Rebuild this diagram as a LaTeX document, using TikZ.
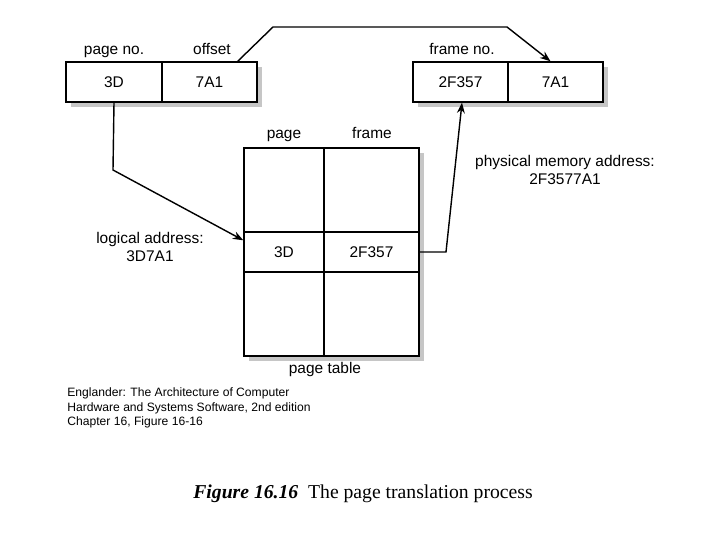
\documentclass[tikz,border=0pt]{standalone}
\usepackage{fontspec}
\setmainfont{Liberation Sans}
\newfontfamily\capfont{Liberation Serif}
\usetikzlibrary{arrows.meta}

\tikzset{
  cell/.style={draw, fill=white, line width=0.8pt, inner sep=0pt, minimum width=1.9cm, minimum height=0.8cm, font=\fontsize{8.8}{10}\selectfont},
  lbl/.style={font=\fontsize{8.8}{10.5}\selectfont, align=center, inner sep=0pt},
  head/.style={lbl, anchor=base},
  shade/.style={fill=gray!45},
  arr/.style={line width=0.8pt, -{Stealth[length=6pt, width=4.5pt]}}
}

\begin{document}
\begin{tikzpicture}[x=0.02cm, y=-0.02cm]
  \useasboundingbox (0,0) rectangle (720,540);

  % shadows
  \fill[shade] (71,67) rectangle (262,107);
  \fill[shade] (418,67) rectangle (608,107);
  \fill[shade] (249,153) rectangle (424,361);

  % logical address
  \node[cell, minimum width=1.92cm] (pageno) at (114,82) {3D};
  \node[cell] (offset) at (209.5,82) {7A1};
  \node[head] (pagenolbl) at (114,55) {page no.};
  \node[head] (offsetlbl) at (212,55) {offset};

  % physical address
  \node[cell] (frameno) at (460.5,82) {2F357};
  \node[cell] (offset2) at (555.5,82) {7A1};
  \node[head] (framenolbl) at (462,55) {frame no.};

  % page table
  \node[cell, minimum width=1.6cm, minimum height=1.68cm] (pg1) at (284,190) {};
  \node[cell, minimum height=1.68cm] (fr1) at (371.5,190) {};
  \node[cell, minimum width=1.6cm] (pg2) at (284,252) {3D};
  \node[cell] (fr2) at (371.5,252) {2F357};
  \node[cell, minimum width=1.6cm, minimum height=1.68cm] (pg3) at (284,314) {};
  \node[cell, minimum height=1.68cm] (fr3) at (371.5,314) {};
  \node[head] (pagelbl) at (284,139) {page};
  \node[head] (framelbl) at (372,139) {frame};
  \node[head] (tablelbl) at (325,374) {page table};

  % address labels
  \node[lbl] (logical) at (150,247) {logical address:\\3D7A1};
  \node[lbl] (physical) at (565,170) {physical memory address:\\2F3577A1};

  % connectors
  \coordinate (bendA) at (113,170);
  \coordinate (bendB) at (273,27);
  \coordinate (bendC) at (507,27);
  \coordinate (bendD) at (446,252);
  \draw[arr] (pageno.south) -- (bendA) -- ([yshift=-0.18cm]pg2.north west);
  \draw[arr] ([xshift=-0.4cm]offset.north east) -- (bendB) -- (bendC) -- ([xshift=-0.1cm]offset2.north);
  \draw[arr] (fr2.east) -- (bendD) -- ([xshift=0.03cm]frameno.south);

  % source note
  \node[anchor=west, align=left, inner sep=0pt, font=\fontsize{6.9}{8.2}\selectfont] (source) at (67,408)
    {Englander: The Architecture of Computer\\Hardware and Systems Software, 2nd edition\\Chapter 16, Figure 16-16};

  % caption
  \node[anchor=west, inner sep=0pt, font=\capfont\fontsize{11.2}{13}\selectfont] (caption) at (193,494)
    {\textbf{\textit{Figure 16.16}}\ \ The page translation process};
\end{tikzpicture}
\end{document}
